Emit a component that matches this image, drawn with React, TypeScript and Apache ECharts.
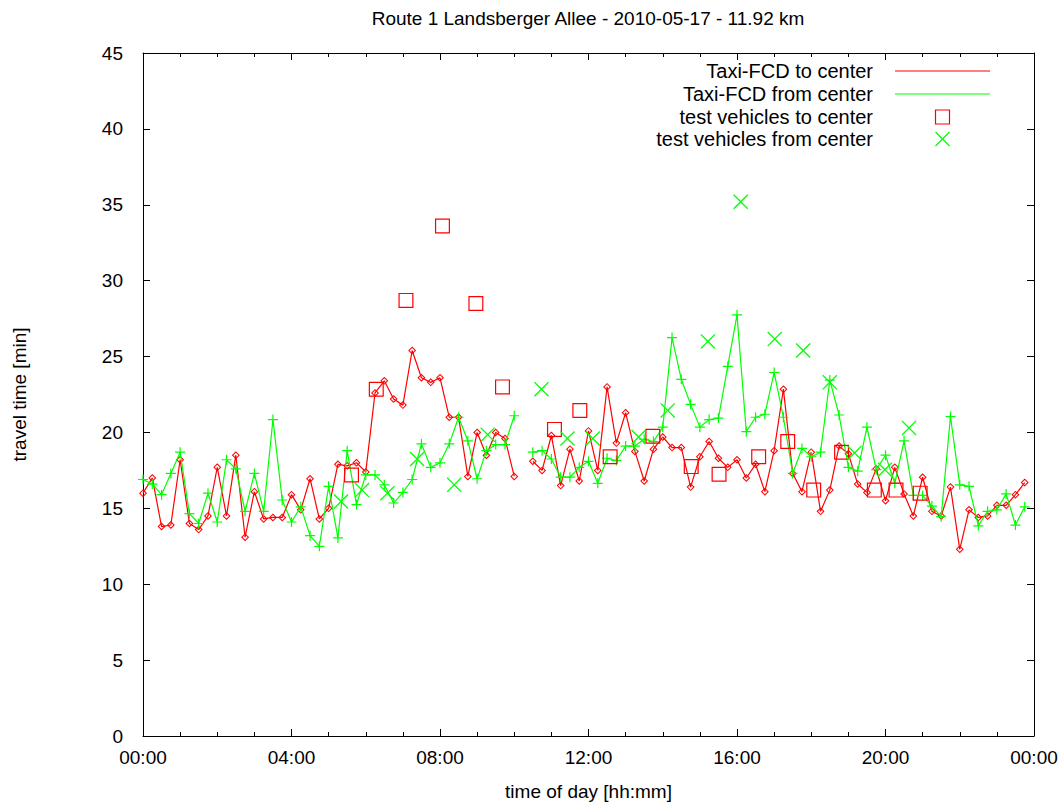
import React, { useEffect, useRef } from 'react';
import * as echarts from 'echarts';

const TITLE = 'Route 1 Landsberger Allee - 2010-05-17 - 11.92 km';
const X_NAME = 'time of day [hh:mm]';
const Y_NAME = 'travel time [min]';
const X_TICK_LABELS = ['00:00', '04:00', '08:00', '12:00', '16:00', '20:00', '00:00'];
const SERIES_NAMES = [
  'Taxi-FCD to center',
  'Taxi-FCD from center',
  'test vehicles to center',
  'test vehicles from center',
];

// Taxi-FCD, one value per 15-minute slot starting at 00:00
const FCD_STEP_MIN = 15;
const fcdToCenter = [
  16.0, 17.0, 13.8, 13.9, 18.2, 14.0, 13.6, 14.5, 17.7, 14.5,
  18.5, 13.1, 16.1, 14.3, 14.4, 14.4, 15.9, 14.9, 16.95, 14.3,
  15.0, 17.9, 17.8, 18.0, 17.4, 22.6, 23.4, 22.2, 21.8, 25.4,
  23.6, 23.3, 23.6, 21.0, 21.0, 17.1, 20.0, 18.5, 20.0, 19.6,
  17.1, null, 18.1, 17.5, 19.8, 16.5, 18.9, 16.8, 20.1, 17.5,
  23.0, 19.3, 21.3, 18.75, 16.8, 18.9, 19.7, 19.0, 19.0, 16.4,
  18.4, 19.4, 18.3, 17.7, 18.2, 17.0, 17.9, 16.1, 18.8, 22.85,
  17.3, 16.1, 18.7, 14.8, 16.2, 19.1, 18.6, 16.6, 16.05, 17.6,
  15.5, 17.7, 15.95, 14.5, 17.05, 14.8, 14.5, 16.4, 12.3, 14.9,
  14.4, 14.5, 15.2, 15.2, 15.9, 16.7,
];
const fcdFromCenter = [
  16.9, 16.6, 15.9, 17.3, 18.7, 14.65, 14.0, 16.0, 14.1, 18.2,
  17.6, 14.8, 17.3, 14.8, 20.85, 15.55, 14.1, 15.1, 13.2, 12.5,
  16.45, 13.05, 18.8, 15.25, 17.2, 17.2, 16.55, 15.35, 16.05, 16.9,
  19.25, 17.7, 18.0, 19.25, 21.0, 19.45, 16.95, 18.8, 19.2, 19.2,
  21.1, null, 18.7, 18.8, 18.25, 17.05, 17.05, 17.7, 18.1, 16.65,
  18.3, 18.15, 19.1, 19.1, 19.55, 19.4, 20.35, 26.25, 23.5, 21.85,
  20.35, 20.85, 20.95, 24.35, 27.75, 20.05, 21.0, 21.2, 23.95, 21.0,
  17.3, 18.95, 18.4, 18.7, 23.45, 21.15, 17.7, 17.45, 20.35, 17.55,
  18.5, 16.65, 19.45, 15.85, 15.85, 15.15, 14.45, 21.05, 16.55, 16.45,
  13.85, 14.8, 14.9, 15.95, 13.9, 15.1,
];

// Test vehicles
const testToCenterTimes = [
  '05:37', '06:17', '07:05', '08:04', '08:58', '09:41', '11:05', '11:46', '12:35', '13:44',
  '14:46', '15:31', '16:35', '17:22', '18:04', '18:49', '19:42', '20:17', '20:56',
];
const testToCenterValues = [
  17.2, 22.85, 28.7, 33.6, 28.5, 23.0, 20.2, 21.45, 18.4, 19.75,
  17.75, 17.25, 18.4, 19.4, 16.2, 18.7, 16.2, 16.2, 16.0,
];
const testFromCenterTimes = [
  '05:20', '05:54', '06:35', '07:23', '08:23', '09:17', '10:44', '11:26', '12:07', '13:21',
  '14:08', '15:13', '16:06', '17:01', '17:47', '18:30', '19:10', '19:59', '20:38',
];
const testFromCenterValues = [
  15.45, 16.2, 16.0, 18.25, 16.55, 19.85, 22.85, 19.6, 19.6, 19.7,
  21.45, 26.0, 35.2, 26.15, 25.4, 23.3, 18.65, 17.55, 20.3,
];

const RED = '#ff0000';
const GREEN = '#00ff00';
const FONT = 'Liberation Sans, Arial, sans-serif';
const FS = 19;
const LEGEND_FS = 20;

const DIAMOND = 'path://M50,0L100,50L50,100L0,50Z M50,18L18,50L50,82L82,50Z';
const PLUS = 'path://M44,0H56V44H100V56H56V100H44V56H0V44H44Z';
const SQUARE = 'path://M0,0H100V100H0Z M8,8V92H92V8Z';
const CROSS = 'path://M0,6L6,0L50,44L94,0L100,6L56,50L100,94L94,100L50,56L6,100L0,94L44,50Z';

const hhmmToHours = (s: string) => {
  const [h, m] = s.split(':').map(Number);
  return h + m / 60;
};

export default function App() {
  const ref = useRef<HTMLDivElement>(null);
  useEffect(() => {
    if (!ref.current) return;
    const chart = echarts.init(ref.current, undefined, { renderer: 'svg' });

    const toC = fcdToCenter.map((v, i) => [(i * FCD_STEP_MIN) / 60, v]);
    const fromC = fcdFromCenter.map((v, i) => [(i * FCD_STEP_MIN) / 60, v]);
    const tvTo = testToCenterTimes.map((t, i) => [hhmmToHours(t), testToCenterValues[i]]);
    const tvFrom = testFromCenterTimes.map((t, i) => [hhmmToHours(t), testFromCenterValues[i]]);

    const gridL = 143, gridR = 29, gridT = 53, gridB = 69;

    const commonX = {
      type: 'value',
      min: 0,
      max: 24,
      interval: 4,
      splitLine: { show: false },
      axisLine: { show: true, onZero: false, lineStyle: { color: '#000', width: 1 } },
      axisTick: { show: true, inside: true, length: 7, lineStyle: { color: '#000', width: 1 } },
      minorTick: { show: true, splitNumber: 4, length: 4, lineStyle: { color: '#000', width: 1 } },
      minorSplitLine: { show: false },
    };
    const commonY = {
      type: 'value',
      min: 0,
      max: 45,
      interval: 5,
      splitLine: { show: false },
      axisLine: { show: true, onZero: false, lineStyle: { color: '#000', width: 1 } },
      axisTick: { show: true, inside: true, length: 7, lineStyle: { color: '#000', width: 1 } },
    };

    const legendX = 873;
    const rowY = [71, 94, 117, 139];
    const sampleX1 = 895, sampleX2 = 990, sampleMid = 942.5;
    const graphic: any[] = [];
    SERIES_NAMES.forEach((n, i) => {
      graphic.push({
        type: 'text',
        x: legendX,
        y: rowY[i],
        style: { text: n, fill: '#000', font: `${LEGEND_FS}px ${FONT}`, textAlign: 'right', textVerticalAlign: 'middle' },
      });
    });
    graphic.push({
      type: 'line',
      shape: { x1: sampleX1, y1: rowY[0], x2: sampleX2, y2: rowY[0] },
      style: { stroke: RED, lineWidth: 1.2 },
    });
    graphic.push({
      type: 'line',
      shape: { x1: sampleX1, y1: rowY[1], x2: sampleX2, y2: rowY[1] },
      style: { stroke: GREEN, lineWidth: 1.2 },
    });
    graphic.push({
      type: 'rect',
      shape: { x: sampleMid - 7, y: rowY[2] - 7, width: 14, height: 14 },
      style: { fill: 'none', stroke: RED, lineWidth: 1.2 },
    });
    graphic.push({
      type: 'line',
      shape: { x1: sampleMid - 7, y1: rowY[3] - 7, x2: sampleMid + 7, y2: rowY[3] + 7 },
      style: { stroke: GREEN, lineWidth: 1.2 },
    });
    graphic.push({
      type: 'line',
      shape: { x1: sampleMid - 7, y1: rowY[3] + 7, x2: sampleMid + 7, y2: rowY[3] - 7 },
      style: { stroke: GREEN, lineWidth: 1.2 },
    });

    chart.setOption({
      animation: false,
      backgroundColor: '#fff',
      textStyle: { fontFamily: FONT },
      title: {
        text: TITLE,
        left: 583,
        top: 4,
        textAlign: 'center',
        textStyle: { fontSize: FS, fontWeight: 'normal', color: '#000', fontFamily: FONT },
      },
      grid: { left: gridL, right: gridR, top: gridT, bottom: gridB, containLabel: false },
      xAxis: [
        {
          ...commonX,
          position: 'bottom',
          name: X_NAME,
          nameLocation: 'middle',
          nameGap: 46,
          nameTextStyle: { fontSize: FS, color: '#000', fontFamily: FONT },
          axisLabel: {
            show: true,
            margin: 12,
            fontSize: FS,
            color: '#000',
            fontFamily: FONT,
            formatter: (v: number) => X_TICK_LABELS[Math.round(v / 4)] ?? '',
          },
        },
        { ...commonX, position: 'top', axisLabel: { show: false } },
      ],
      yAxis: [
        {
          ...commonY,
          position: 'left',
          name: Y_NAME,
          nameLocation: 'middle',
          nameGap: 114,
          nameTextStyle: { fontSize: FS, color: '#000', fontFamily: FONT },
          axisLabel: { show: true, margin: 20, fontSize: FS, color: '#000', fontFamily: FONT },
        },
        { ...commonY, position: 'right', axisLabel: { show: false } },
      ],
      series: [
        {
          name: SERIES_NAMES[0],
          type: 'line',
          data: toC,
          connectNulls: false,
          symbol: DIAMOND,
          symbolSize: 8,
          showSymbol: true,
          itemStyle: { color: RED, borderWidth: 0 },
          lineStyle: { color: RED, width: 1.2 },
          emphasis: { disabled: true },
          z: 2,
        },
        {
          name: SERIES_NAMES[1],
          type: 'line',
          data: fromC,
          connectNulls: false,
          symbol: PLUS,
          symbolSize: 10,
          showSymbol: true,
          itemStyle: { color: GREEN, borderWidth: 0 },
          lineStyle: { color: GREEN, width: 1.2 },
          emphasis: { disabled: true },
          z: 3,
        },
        {
          name: SERIES_NAMES[2],
          type: 'scatter',
          data: tvTo,
          symbol: SQUARE,
          symbolSize: 15,
          itemStyle: { color: RED, borderWidth: 0, opacity: 1 },
          emphasis: { disabled: true },
          z: 4,
        },
        {
          name: SERIES_NAMES[3],
          type: 'scatter',
          data: tvFrom,
          symbol: CROSS,
          symbolSize: 15,
          itemStyle: { color: GREEN, borderWidth: 0, opacity: 1 },
          emphasis: { disabled: true },
          z: 5,
        },
      ],
      graphic,
    });

    return () => chart.dispose();
  }, []);

  return (
    <div
      ref={ref}
      style={{ position: 'absolute', left: 0, top: 0, width: 1063, height: 806, background: '#fff' }}
    />
  );
}
